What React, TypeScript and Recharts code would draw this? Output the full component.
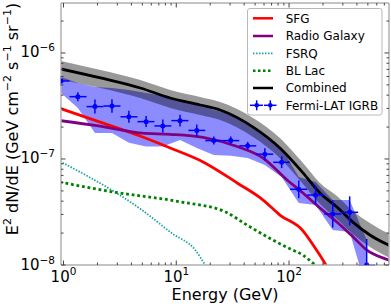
import React from 'react';
import { ComposedChart, Line, Area, Scatter, ErrorBar, XAxis, YAxis, Legend } from 'recharts';

// ---------- Fermi-LAT IGRB points ----------
const igrbEnergy = [0.95, 1.34, 1.9, 2.69, 3.8, 5.4, 7.6, 10.8, 15.2, 21.5, 30.4, 43, 61, 86, 122, 172, 244, 345, 488];
const igrbBinLow = [0.8, 1.13, 1.6, 2.26, 3.2, 4.53, 6.4, 9.05, 12.8, 18.1, 25.6, 36.2, 51.2, 72.4, 102, 145, 205, 290, 410];
const igrbBinHigh = [1.13, 1.6, 2.26, 3.2, 4.53, 6.4, 9.05, 12.8, 18.1, 25.6, 36.2, 51.2, 72.4, 102, 145, 205, 290, 410, 580];
const igrbFlux = [5.44e-7, 3.87e-7, 3.12e-7, 3.16e-7, 2.5e-7, 2.25e-7, 2.05e-7, 2.3e-7, 1.86e-7, 1.49e-7, 1.49e-7, 1.33e-7, 1.11e-7, 9.3e-8, 5.18e-8, 4.57e-8, 3.03e-8, 3.14e-8, 1.0e-8];
const igrbErrUp = [6.3e-8, 4.0e-8, 5.1e-8, 5.0e-8, 3.5e-8, 2.9e-8, 3.1e-8, 3.2e-8, 2.6e-8, 1.4e-8, 1.4e-8, 1.2e-8, 1.5e-8, 1.3e-8, 1.1e-8, 1.05e-8, 1.05e-8, 1.3e-8, 7.6e-9];
const igrbErrDown = [5.6e-8, 3.6e-8, 4.4e-8, 4.3e-8, 3.0e-8, 2.5e-8, 2.7e-8, 2.8e-8, 2.3e-8, 1.2e-8, 1.2e-8, 1.1e-8, 1.4e-8, 1.1e-8, 9.2e-9, 8.5e-9, 7.8e-9, 7.8e-9, 9.0e-9];

// ---------- IGRB systematic (foreground) band ----------
const igrbBandEnergy = [0.95, 1.34, 1.9, 2.69, 3.8, 5.4, 7.6, 10.8, 15.2, 21.5, 30.4, 43, 61, 86, 122, 172, 244, 345, 488];
const igrbBandHigh = [5.94e-7, 5.21e-7, 4.78e-7, 4.67e-7, 4.48e-7, 4.19e-7, 3.93e-7, 3.6e-7, 3.23e-7, 2.9e-7, 2.66e-7, 2.23e-7, 1.61e-7, 1.27e-7, 6.76e-8, 6.07e-8, 4.1e-8, 4.1e-8, 1.72e-8];
const igrbBandLow = [4.19e-7, 3.03e-7, 1.76e-7, 1.76e-7, 1.42e-7, 1.31e-7, 1.31e-7, 1.51e-7, 1.27e-7, 1.09e-7, 1.07e-7, 1.02e-7, 8.78e-8, 6.76e-8, 3.85e-8, 3.68e-8, 2.14e-8, 2.05e-8, 5.8e-9];

// ---------- Combined model + uncertainty ----------
const combinedEnergy = [0.93, 2.13, 4.8, 8.85, 16.3, 24.5, 48, 83, 133, 188, 266, 368, 521, 752, 800];
const combinedFlux = [7.1e-7, 5.81e-7, 4.67e-7, 3.76e-7, 3.23e-7, 2.9e-7, 2.0e-7, 1.27e-7, 7.4e-8, 4.78e-8, 3.52e-8, 2.54e-8, 1.92e-8, 1.55e-8, 1.5e-8];
const combinedHigh = [8.45e-7, 6.92e-7, 5.56e-7, 4.48e-7, 3.85e-7, 3.45e-7, 2.44e-7, 1.58e-7, 9.16e-8, 5.94e-8, 4.48e-8, 3.23e-8, 2.49e-8, 2.0e-8, 1.95e-8];
const combinedLow = [5.6e-7, 4.67e-7, 3.76e-7, 3.03e-7, 2.6e-7, 2.33e-7, 1.61e-7, 1.02e-7, 5.81e-8, 3.76e-8, 2.72e-8, 1.96e-8, 1.48e-8, 1.19e-8, 1.15e-8];

// ---------- Source classes ----------
const sfgEnergy = [0.93, 2.05, 4.97, 8.85, 17.3, 34.7, 58.9, 83, 133, 163, 212, 260];
const sfgFlux = [3.0e-7, 2.25e-7, 1.62e-7, 1.27e-7, 9.38e-8, 5.94e-8, 4.1e-8, 2.96e-8, 2.1e-8, 1.55e-8, 1.0e-8, 6.5e-9];

const radioEnergy = [0.93, 2.04, 4.97, 8.85, 17.3, 34.7, 58.9, 96, 133, 188, 264, 368, 487, 752, 800];
const radioFlux = [2.3e-7, 2.05e-7, 1.75e-7, 1.71e-7, 1.6e-7, 1.31e-7, 1.02e-7, 6.34e-8, 4.78e-8, 3.45e-8, 2.56e-8, 1.85e-8, 1.39e-8, 1.12e-8, 1.09e-8];

const fsrqEnergy = [0.93, 1.67, 2.88, 4.97, 9.16, 14.7, 18.1, 22];
const fsrqFlux = [9.5e-8, 6.8e-8, 4.85e-8, 3.3e-8, 1.99e-8, 1.39e-8, 1.0e-8, 7.5e-9];

const bllacEnergy = [0.93, 2.88, 10.8, 27.1, 42.4, 72, 102, 133, 170, 208];
const bllacFlux = [6.05e-8, 4.85e-8, 3.95e-8, 3.18e-8, 2.38e-8, 1.72e-8, 1.42e-8, 1.24e-8, 1.0e-8, 8.4e-9];

// ---------- Axes ----------
const X_DOMAIN: [number, number] = [0.95, 770];
const Y_DOMAIN: [number, number] = [1e-8, 2.96e-6];
const xTicks = [1, 2, 3, 4, 5, 6, 7, 8, 9, 10, 20, 30, 40, 50, 60, 70, 80, 90, 100, 200, 300, 400, 500, 600, 700];
const xMajorExp = [0, 1, 2];
const xMajorLabels = ['0', '1', '2'];
const yTicks = [1e-8, 2e-8, 3e-8, 4e-8, 5e-8, 6e-8, 7e-8, 8e-8, 9e-8, 1e-7, 2e-7, 3e-7, 4e-7, 5e-7, 6e-7, 7e-7, 8e-7, 9e-7, 1e-6, 2e-6];
const yMajorExp = [-8, -7, -6];
const yMajorLabels = ['\u22128', '\u22127', '\u22126'];

// ---------- Legend ----------
const legendLabels = ['SFG', 'Radio Galaxy', 'FSRQ', 'BL Lac', 'Combined', 'Fermi-LAT IGRB'];

const COLORS = {
  sfg: '#ff0000',
  radio: '#800080',
  fsrq: '#1ea3a3',
  bllac: '#008000',
  combined: '#000000',
  igrb: '#0000ff',
};

const FONT = 'DejaVu Sans, sans-serif';

const toSeries = (es: number[], vs: number[]) => es.map((e, i) => ({ E: e, v: vs[i] }));
const toBand = (es: number[], lo: number[], hi: number[]) => es.map((e, i) => ({ E: e, r: [lo[i], hi[i]] }));

const sfgData = toSeries(sfgEnergy, sfgFlux);
const radioData = toSeries(radioEnergy, radioFlux);
const fsrqData = toSeries(fsrqEnergy, fsrqFlux);
const bllacData = toSeries(bllacEnergy, bllacFlux);
const combinedData = toSeries(combinedEnergy, combinedFlux);
const combinedBand = toBand(combinedEnergy, combinedLow, combinedHigh);
const igrbBand = toBand(igrbBandEnergy, igrbBandLow, igrbBandHigh);
// error bars are limited to the visible axis range (the library does not clip them)
const igrbData = igrbEnergy.map((e, i) => {
  const v = igrbFlux[i];
  const lowX = Math.max(igrbBinLow[i], X_DOMAIN[0]);
  const highX = Math.min(igrbBinHigh[i], X_DOMAIN[1]);
  const lowY = Math.max(v - igrbErrDown[i], Y_DOMAIN[0]);
  return {
    E: e,
    v,
    ex: [e - lowX, highX - e],
    ey: [v - lowY, igrbErrUp[i]],
  };
});

const majorIndex = (v: number, exps: number[]) => {
  const l = Math.log10(v);
  const r = Math.round(l);
  if (Math.abs(l - r) > 1e-6) return -1;
  return exps.indexOf(r);
};
const isMajor = (v: number) => {
  const l = Math.log10(v);
  return Math.abs(l - Math.round(l)) < 1e-6;
};

const TICK_COLOR = '#444';
const SPINE = { stroke: '#b0b0b0', strokeWidth: 1.5 };

function XTick(props: any) {
  const { x, y, payload, side } = props;
  const v = payload.value;
  const major = isMajor(v);
  const len = major ? 4.5 : 2.5;
  const dir = side === 'top' ? 1 : -1;
  const idx = majorIndex(v, xMajorExp);
  return (
    <g>
      <line x1={x} x2={x} y1={y} y2={y + dir * len} stroke={TICK_COLOR} strokeWidth={1} />
      {side !== 'top' && idx >= 0 && (
        <text x={x} y={y + 17} textAnchor="middle" fontFamily={FONT} fontSize={15} fill="#000">
          10
          <tspan dy={-6.7} fontSize={10.5}>{xMajorLabels[idx]}</tspan>
        </text>
      )}
    </g>
  );
}

function YTick(props: any) {
  const { x, y, payload, side } = props;
  const v = payload.value;
  const major = isMajor(v);
  const len = major ? 4.5 : 2.5;
  const dir = side === 'right' ? -1 : 1;
  const idx = majorIndex(v, yMajorExp);
  return (
    <g>
      <line x1={x} x2={x + dir * len} y1={y} y2={y} stroke={TICK_COLOR} strokeWidth={1} />
      {side !== 'right' && idx >= 0 && (
        <text x={x - 6} y={y + 4.5} textAnchor="end" fontFamily={FONT} fontSize={15} fill="#000">
          10
          <tspan dy={-6} fontSize={10.5}>{yMajorLabels[idx]}</tspan>
        </text>
      )}
    </g>
  );
}

function XLabel(props: any) {
  const vb = props.viewBox || { x: 61, y: 265, width: 328, height: 42 };
  return (
    <text x={vb.x + vb.width / 2} y={vb.y + 35} textAnchor="middle" fontFamily={FONT} fontSize={16} fill="#000">
      Energy (GeV)
    </text>
  );
}

function YLabel(props: any) {
  const vb = props.viewBox || { x: 0, y: 3, width: 61, height: 262 };
  const cx = vb.x + 17.5;
  const cy = vb.y + vb.height / 2 - 15;
  return (
    <text
      x={cx}
      y={cy}
      transform={`rotate(-90, ${cx}, ${cy})`}
      textAnchor="middle"
      fontFamily={FONT}
      fontSize={16}
      fill="#000"
    >
      E<tspan dy={-7} fontSize={11}>2</tspan>
      <tspan dy={7}> dN/dE (GeV cm</tspan>
      <tspan dy={-7} fontSize={11}>{'\u22122'}</tspan>
      <tspan dy={7}> s</tspan>
      <tspan dy={-7} fontSize={11}>{'\u22121'}</tspan>
      <tspan dy={7}> sr</tspan>
      <tspan dy={-7} fontSize={11}>{'\u22121'}</tspan>
      <tspan dy={7}>)</tspan>
    </text>
  );
}

function LegendBox() {
  const rowY = [10.3, 28, 45.3, 62.7, 80, 97.3];
  const sample = (i: number) => {
    const y = rowY[i];
    switch (i) {
      case 0:
        return <line x1={6} x2={26} y1={y} y2={y} stroke={COLORS.sfg} strokeWidth={2.5} />;
      case 1:
        return <line x1={6} x2={26} y1={y} y2={y} stroke={COLORS.radio} strokeWidth={2.5} />;
      case 2:
        return <line x1={6} x2={26} y1={y} y2={y} stroke={COLORS.fsrq} strokeWidth={1.8} strokeDasharray="1.5 1.5" />;
      case 3:
        return <line x1={6} x2={26} y1={y} y2={y} stroke={COLORS.bllac} strokeWidth={2.5} strokeDasharray="2.5 2.5" />;
      case 4:
        return <line x1={6} x2={26} y1={y} y2={y} stroke={COLORS.combined} strokeWidth={2.5} />;
      default:
        return (
          <g stroke={COLORS.igrb} strokeWidth={1.5}>
            <line x1={3} x2={16} y1={y} y2={y} />
            <line x1={9.7} x2={9.7} y1={y - 5} y2={y + 5} />
            <line x1={17} x2={29.5} y1={y} y2={y} />
            <line x1={23.3} x2={23.3} y1={y - 5} y2={y + 5} />
            <circle cx={9.7} cy={y} r={2.3} fill={COLORS.igrb} stroke="none" />
            <circle cx={23.3} cy={y} r={2.3} fill={COLORS.igrb} stroke="none" />
          </g>
        );
    }
  };
  return (
    <svg width={136} height={108} style={{ display: 'block' }}>
      <rect x={0.5} y={0.5} width={134.5} height={106.5} rx={2.5} fill="#ffffff" stroke="#b8b8b8" strokeWidth={1} />
      {legendLabels.map((lab, i) => (
        <g key={lab}>
          {sample(i)}
          <text x={38.7} y={rowY[i] + 4.3} fontFamily={FONT} fontSize={12} fill="#000">
            {lab}
          </text>
        </g>
      ))}
    </svg>
  );
}

export default function App() {
  return (
    <div style={{ position: 'absolute', left: 0, top: 0, width: 391, height: 307, background: '#fff' }}>
      <ComposedChart width={391} height={307} margin={{ top: 0, right: 0, bottom: 0, left: 0 }}>
        <XAxis
          dataKey="E"
          type="number"
          scale="log"
          domain={X_DOMAIN}
          allowDataOverflow
          ticks={xTicks}
          interval={0}
          height={42}
          tickSize={0}
          tickMargin={0}
          tickLine={false}
          axisLine={SPINE}
          tick={(p: any) => <XTick {...p} side="bottom" />}
          label={(p: any) => <XLabel {...p} />}
        />
        <XAxis
          xAxisId="top"
          orientation="top"
          dataKey="E"
          type="number"
          scale="log"
          domain={X_DOMAIN}
          allowDataOverflow
          ticks={xTicks}
          interval={0}
          height={3}
          tickSize={0}
          tickMargin={0}
          tickLine={false}
          axisLine={SPINE}
          tick={(p: any) => <XTick {...p} side="top" />}
        />
        <YAxis
          type="number"
          scale="log"
          domain={Y_DOMAIN}
          allowDataOverflow
          ticks={yTicks}
          interval={0}
          width={61}
          tickSize={0}
          tickMargin={0}
          tickLine={false}
          axisLine={SPINE}
          tick={(p: any) => <YTick {...p} side="left" />}
          label={(p: any) => <YLabel {...p} />}
        />
        <YAxis
          yAxisId="right"
          orientation="right"
          type="number"
          scale="log"
          domain={Y_DOMAIN}
          allowDataOverflow
          ticks={yTicks}
          interval={0}
          width={2}
          tickSize={0}
          tickMargin={0}
          tickLine={false}
          axisLine={SPINE}
          tick={(p: any) => <YTick {...p} side="right" />}
        />

        <Area
          data={igrbBand}
          dataKey="r"
          type="linear"
          stroke="none"
          fill="#0000ff"
          fillOpacity={0.45}
          isAnimationActive={false}
          activeDot={false}
          dot={false}
        />
        <Area
          data={combinedBand}
          dataKey="r"
          type="monotone"
          stroke="none"
          fill="#000000"
          fillOpacity={0.4}
          isAnimationActive={false}
          activeDot={false}
          dot={false}
        />
        <Line data={fsrqData} dataKey="v" type="monotone" stroke={COLORS.fsrq} strokeWidth={1.8} strokeDasharray="1.5 1.5" dot={false} activeDot={false} isAnimationActive={false} />
        <Line data={bllacData} dataKey="v" type="monotone" stroke={COLORS.bllac} strokeWidth={2.8} strokeDasharray="2.8 2.8" dot={false} activeDot={false} isAnimationActive={false} />
        <Line data={sfgData} dataKey="v" type="monotone" stroke={COLORS.sfg} strokeWidth={2.8} dot={false} activeDot={false} isAnimationActive={false} />
        <Line data={radioData} dataKey="v" type="monotone" stroke={COLORS.radio} strokeWidth={2.8} dot={false} activeDot={false} isAnimationActive={false} />
        <Line data={combinedData} dataKey="v" type="monotone" stroke={COLORS.combined} strokeWidth={2.8} dot={false} activeDot={false} isAnimationActive={false} />
        <Scatter
          data={igrbData}
          dataKey="v"
          fill={COLORS.igrb}
          isAnimationActive={false}
          shape={(p: any) => <circle cx={p.cx} cy={p.cy} r={2.5} fill={COLORS.igrb} />}
        >
          <ErrorBar dataKey="ey" direction="y" width={0} stroke={COLORS.igrb} strokeWidth={1.5} isAnimationActive={false} />
          <ErrorBar dataKey="ex" direction="x" width={0} stroke={COLORS.igrb} strokeWidth={1.5} isAnimationActive={false} />
        </Scatter>
        <Legend
          layout="horizontal"
          verticalAlign="middle"
          align="center"
          wrapperStyle={{ left: 247, top: 8, width: 136, height: 108 }}
          content={() => <LegendBox />}
        />
      </ComposedChart>
    </div>
  );
}
